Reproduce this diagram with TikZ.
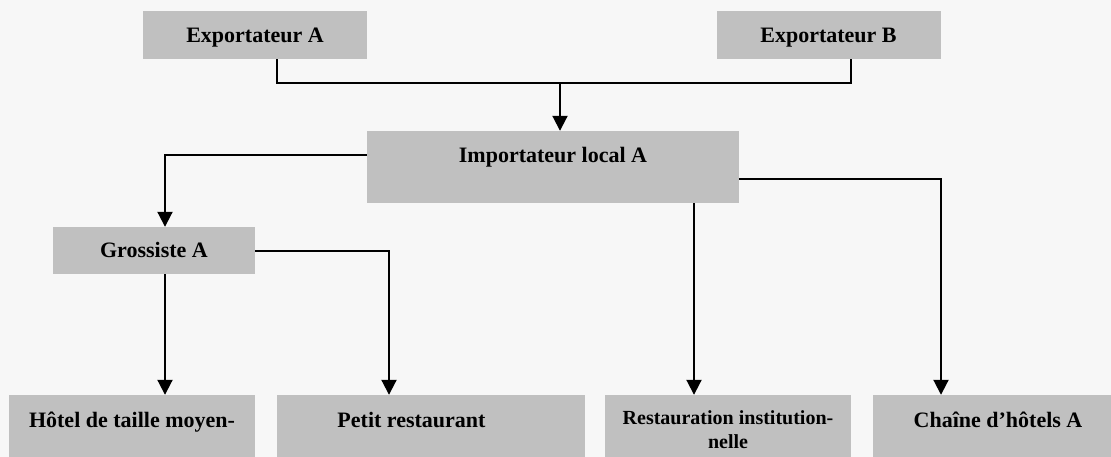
\documentclass[tikz,border=0pt]{standalone}
\usepackage{fontspec}
\setmainfont{Liberation Serif}
\usetikzlibrary{arrows.meta,calc}
\definecolor{bgc}{HTML}{F7F7F7}
\definecolor{boxc}{HTML}{C0C0C0}
\tikzset{
  box/.style={rectangle, fill=boxc, draw=none, inner sep=0pt},
  lbl/.style={anchor=base, inner sep=0pt, font=\bfseries\fontsize{22}{26}\selectfont},
  lblsmall/.style={anchor=base, inner sep=0pt, align=center, font=\bfseries\fontsize{20}{23.5}\selectfont},
  conn/.style={line width=2pt, draw=black},
  arr/.style={conn, -{Triangle[length=15pt,width=15pt]}}
}
\begin{document}
\begin{tikzpicture}[x=1pt,y=-1pt]
\path[fill=bgc] (0,0) rectangle (1111,457);
\useasboundingbox (0,0) rectangle (1111,457);
% boxes
\node[box, minimum width=224pt, minimum height=48pt] (expA) at (255,35) {};
\node[box, minimum width=224pt, minimum height=48pt] (expB) at (828.5,35) {};
\node[box, minimum width=372pt, minimum height=72pt] (imp) at (553,167) {};
\node[box, minimum width=202pt, minimum height=47pt] (gro) at (154,250.5) {};
\node[box, minimum width=246pt, minimum height=70pt] (hot) at (132,430) {};
\node[box, minimum width=308pt, minimum height=70pt] (pet) at (431,430) {};
\node[box, minimum width=246pt, minimum height=70pt] (res) at (728,430) {};
\node[box, minimum width=250pt, minimum height=70pt] (cha) at (998,430) {};
% labels
\node[lbl] (texpA) at (255,43) {Exportateur A};
\node[lbl] (texpB) at (828.5,43) {Exportateur B};
\node[lbl] (timp) at (553,163) {Importateur local A};
\node[lbl] (tgro) at (154,258) {Grossiste A};
\node[lbl] (thot) at (132,427) {Hôtel de taille moyen-};
\node[lbl] (tpet) at (411.5,427) {Petit restaurant};
\node[lblsmall] (tres) at (728,448) {Restauration institution-\\nelle};
\node[lbl] (tcha) at (998,427) {Chaîne d’hôtels A};
% connectors
\coordinate (j) at (560,83);
\draw[conn] ($(expA.south)+(22,0)$) |- (j) -| ($(expB.south)+(22.5,0)$);
\draw[arr] (j) -- (j |- imp.north);
\draw[arr] ($(imp.west)+(0,-12)$) -| ($(gro.north)+(11,0)$);
\draw[arr] ($(imp.east)+(0,12)$) -| ($(cha.north)+(-57,0)$);
\draw[arr] ($(imp.south)+(141,0)$) -- ($(res.north)+(-34,0)$);
\draw[arr] ($(gro.south)+(11,0)$) -- ($(hot.north)+(33,0)$);
\draw[arr] (gro.east) -| ($(pet.north)+(-42,0)$);
\end{tikzpicture}
\end{document}
